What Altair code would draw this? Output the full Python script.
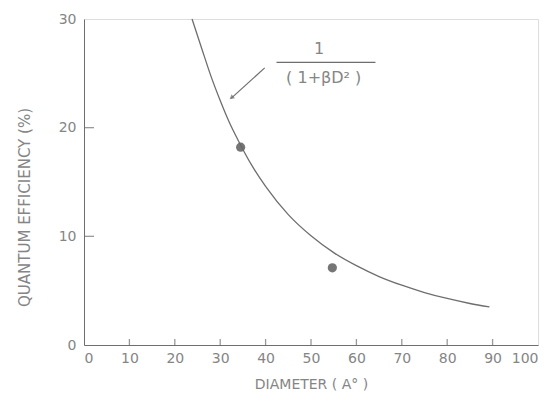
import altair as alt
import pandas as pd

# curve
curve_d = [23.8, 26, 28, 30, 32, 34, 37, 40, 45, 50, 55, 60, 65, 70, 75, 80, 85, 89.3]
curve_q = [30.0, 27.2, 24.7, 22.5, 20.5, 18.8, 16.5, 14.6, 12.0, 10.05, 8.5, 7.3, 6.3, 5.5, 4.83, 4.28, 3.82, 3.5]

# measured points
pt_d = [34.5, 54.7]
pt_q = [18.2, 7.1]

x_ticks = [0, 10, 20, 30, 40, 50, 60, 70, 80, 90, 100]
y_ticks = [0, 10, 20, 30]
x_inner_ticks = [10, 20, 30, 40, 50, 60, 70, 80, 90]
y_inner_ticks = [10, 20]

GRAY = "#858585"
LINE = "#6e6e6e"
FONT = "DejaVu Sans"

W, H = 454, 326

xs = alt.Scale(domain=[0, 100], nice=False)
ys = alt.Scale(domain=[0, 30], nice=False)

curve_df = pd.DataFrame({"D": curve_d, "Q": curve_q})
pts_df = pd.DataFrame({"D": pt_d, "Q": pt_q})

base_x = alt.X("D:Q", scale=xs,
               axis=alt.Axis(values=x_ticks, title="DIAMETER ( A° )", grid=False,
                             ticks=False, domainColor=LINE, labelColor=GRAY,
                             labelFontSize=14, labelFont=FONT, labelPadding=6,
                             titleFont=FONT, titleFontSize=14, titleFontWeight="normal",
                             titleColor=GRAY, titlePadding=12))
base_y = alt.Y("Q:Q", scale=ys,
               axis=alt.Axis(values=y_ticks, title="QUANTUM EFFICIENCY (%)", grid=False,
                             ticks=False, domainColor=LINE, labelColor=GRAY,
                             labelFontSize=14, labelFont=FONT, labelPadding=8,
                             titleFont=FONT, titleFontSize=15, titleFontWeight="normal",
                             titleColor=GRAY, titleX=-52, titleY=188))

curve = alt.Chart(curve_df).mark_line(color=LINE, strokeWidth=1.3, interpolate="monotone").encode(
    x=base_x, y=base_y)

points = alt.Chart(pts_df).mark_point(filled=True, color="#666666", size=85, opacity=0.9).encode(
    x=alt.X("D:Q", scale=xs), y=alt.Y("Q:Q", scale=ys))

xt_df = pd.DataFrame({"D": x_inner_ticks})
xticks = alt.Chart(xt_df).mark_tick(color=LINE, thickness=1.3, size=6, orient="vertical").encode(
    x=alt.X("D:Q", scale=xs), y=alt.value(H - 3))

yt_df = pd.DataFrame({"Q": y_inner_ticks})
yticks = alt.Chart(yt_df).mark_tick(color=LINE, thickness=1.3, size=10, orient="horizontal").encode(
    y=alt.Y("Q:Q", scale=ys), x=alt.value(5))

# annotation: arrow and fraction
arrow_df = pd.DataFrame({"D": [39.8], "Q": [25.5], "D2": [32.4], "Q2": [22.7]})
arrow = alt.Chart(arrow_df).mark_rule(color=LINE, strokeWidth=1.2).encode(
    x=alt.X("D:Q", scale=xs), y=alt.Y("Q:Q", scale=ys), x2="D2:Q", y2="Q2:Q")
head_df = pd.DataFrame({"D": [32.6], "Q": [22.8]})
head = alt.Chart(head_df).mark_point(shape="triangle", filled=True, color=LINE, size=30,
                                     angle=230).encode(
    x=alt.X("D:Q", scale=xs), y=alt.Y("Q:Q", scale=ys))

bar_df = pd.DataFrame({"D": [42.4], "D2": [64.2], "Q": [26.0]})
bar = alt.Chart(bar_df).mark_rule(color=LINE, strokeWidth=1.2).encode(
    x=alt.X("D:Q", scale=xs), x2="D2:Q", y=alt.Y("Q:Q", scale=ys))

txt_df = pd.DataFrame({"D": [51.8, 52.8], "Q": [27.2, 24.6], "t": ["1", "( 1+βD² )"]})
txt = alt.Chart(txt_df).mark_text(color=GRAY, font=FONT, fontSize=16).encode(
    x=alt.X("D:Q", scale=xs), y=alt.Y("Q:Q", scale=ys), text="t:N")

chart = alt.layer(curve, points, xticks, yticks, arrow, head, bar, txt).properties(
    width=W, height=H,
    autosize=alt.AutoSizeParams(type="none"),
    padding={"left": 76, "top": 11, "right": 10, "bottom": 49},
).configure_view(stroke=LINE, strokeWidth=1).configure(background="white")

chart.save("out.html", embed_options={"renderer": "svg", "actions": False})
